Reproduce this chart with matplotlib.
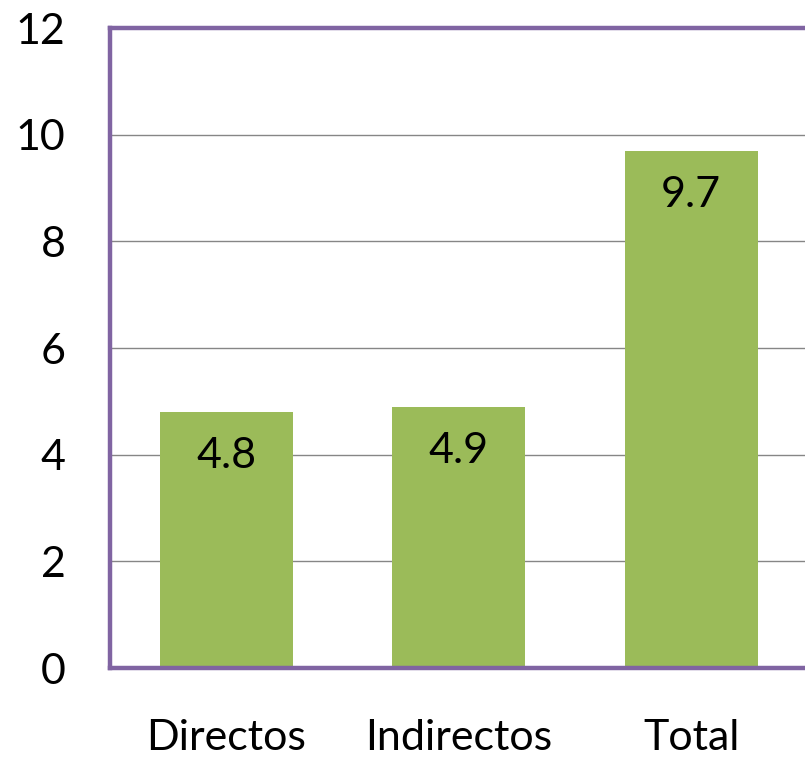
import matplotlib.pyplot as plt

categories = ["Directos", "Indirectos", "Total"]
values = [4.8, 4.9, 9.7]
y_ticks = [0, 2, 4, 6, 8, 10, 12]

BAR_COLOR = "#9BBB59"
FRAME_COLOR = "#8064A2"
GRID_COLOR = "#868686"

plt.rcParams["font.family"] = ["Lato", "DejaVu Sans"]

fig = plt.figure(figsize=(8.05, 7.63), dpi=100)
ax = fig.add_axes([110 / 805, 1 - 668 / 763, 697.5 / 805, 640 / 763])

x = range(len(categories))
bars = ax.bar(x, values, width=0.57, color=BAR_COLOR, zorder=2)

for bar, value in zip(bars, values):
    ax.annotate(
        f"{value:.1f}",
        xy=(bar.get_x() + bar.get_width() / 2, bar.get_height()),
        xytext=(0, -44),
        textcoords="offset pixels",
        ha="center",
        va="center",
        fontsize=31,
        color="black",
        zorder=3,
    )

ax.set_xlim(-0.5, len(categories) - 0.5)
ax.set_ylim(0, 12)
ax.set_yticks(y_ticks)
ax.set_yticklabels([str(t) for t in y_ticks], fontsize=31)
ax.set_xticks(list(x))
ax.set_xticklabels(categories, fontsize=31)
ax.tick_params(axis="y", length=0, pad=32)
ax.tick_params(axis="x", length=0, pad=37)

ax.yaxis.grid(True, color=GRID_COLOR, linewidth=1, zorder=0)
ax.set_axisbelow(True)

for side in ["left", "top", "bottom", "right"]:
    ax.spines[side].set_color(FRAME_COLOR)
    ax.spines[side].set_linewidth(3.2)
    ax.spines[side].set_zorder(4)

fig.savefig("out.png", dpi=100)
plt.close(fig)
